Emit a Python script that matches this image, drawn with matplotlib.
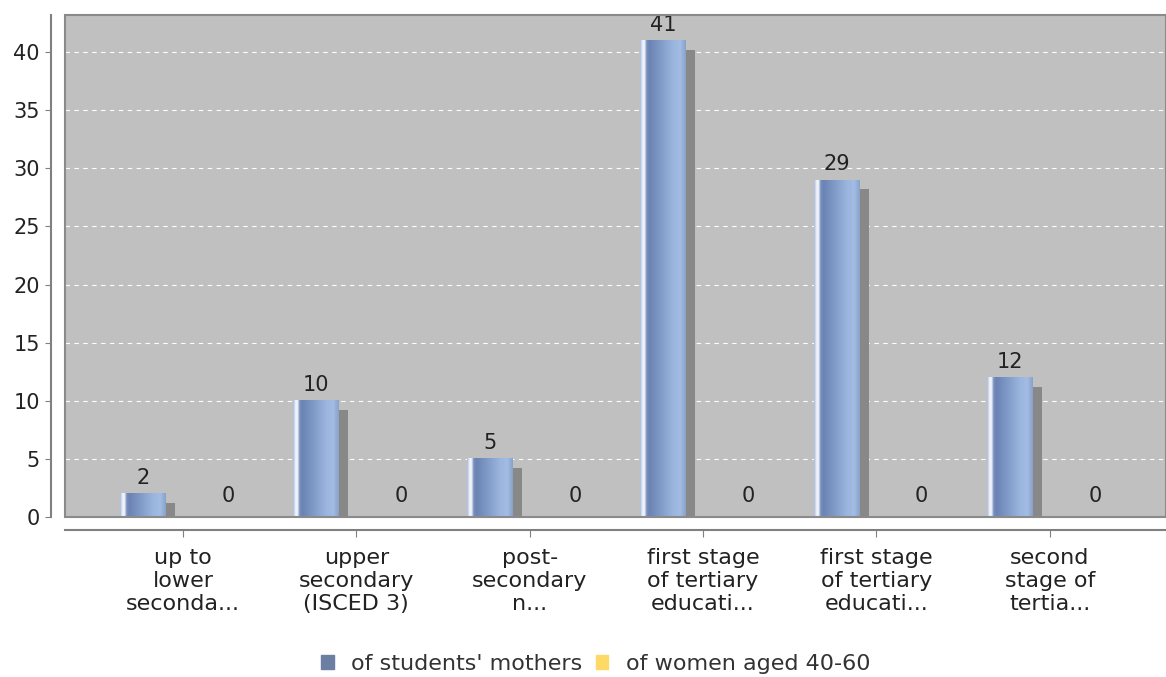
import numpy as np
import matplotlib.pyplot as plt
import matplotlib.transforms as mtransforms
from matplotlib.patches import Rectangle
from matplotlib.colors import to_rgb

categories = ["up to\nlower\nseconda...", "upper\nsecondary\n(ISCED 3)", "post-\nsecondary\nn...",
              "first stage\nof tertiary\neducati...", "first stage\nof tertiary\neducati...",
              "second\nstage of\ntertia..."]
mothers = [2, 10, 5, 41, 29, 12]
women = [0, 0, 0, 0, 0, 0]
series_names = ["of students' mothers", "of women aged 40-60"]
series_colors = ["#6b7fa3", "#ffd966"]

plt.rcParams['font.family'] = ['DejaVu Sans']
FS = 15

fig = plt.figure(figsize=(11.66, 6.77), dpi=100)
ax = fig.add_axes([65 / 1166, 1 - 517 / 677, 1 - 65 / 1166, (517 - 15) / 677])
ax.set_facecolor("#c0c0c0")

x = np.arange(len(categories))
width = 0.265
off1 = 0.23
off2 = 0.26

# horizontal gradient for the bars
stops = [0.0, 0.05, 0.09, 0.14, 0.20, 0.72, 0.88, 1.0]
cols = ["#aebfdd", "#eef2fa", "#f4f7fc", "#7890be", "#6a83b4", "#9ab5de", "#a2bce3", "#8aa3cc"]
t = np.linspace(0, 1, 60)
rgb = np.array([to_rgb(c) for c in cols])
grad = np.stack([np.interp(t, stops, rgb[:, k]) for k in range(3)], axis=-1)[None, :, :]

shadow_tr = mtransforms.offset_copy(ax.transData, fig=fig, x=9, y=-9, units='dots')

for xi, v in zip(x - off1, mothers):
    if v > 0:
        ax.bar(xi, v, width, color="#888888", transform=shadow_tr, zorder=2, linewidth=0)
        ax.imshow(grad, extent=[xi - width / 2, xi + width / 2, 0, v], aspect='auto', zorder=3,
                  interpolation='bilinear')
    ax.annotate(str(v), (xi, v), xytext=(0, 6), textcoords='offset pixels',
                ha='center', va='bottom', fontsize=FS, color="#222222", zorder=5)

ax.bar(x + off2, women, width, color=series_colors[1], zorder=3)
for xi, v in zip(x + off2, women):
    ax.annotate(str(v), (xi, v), xytext=(0, 11), textcoords='offset pixels',
                ha='center', va='bottom', fontsize=FS, color="#222222", zorder=5)

ax.set_xlim(-0.68, 5.67)
ax.set_ylim(0, 43.2)
ax.set_yticks(range(0, 45, 5))
ax.set_xticks(x)
ax.tick_params(axis='y', labelsize=FS, colors="#808080", labelcolor="#222222", length=4, pad=4)
ax.tick_params(axis='x', labelsize=16, colors="#808080", labelcolor="#222222", length=5, pad=8)
ax.set_xticklabels(categories, fontsize=16, color="#222222", linespacing=0.98)

ax.grid(axis='y', color='white', linestyle=(0, (4, 4)), linewidth=0.8, zorder=1)
ax.set_axisbelow(True)

for s in ['top', 'right']:
    ax.spines[s].set_visible(False)
ax.spines['left'].set_position(('outward', 10))
ax.spines['bottom'].set_position(('outward', 9))
ax.spines['left'].set_color("#808080")
ax.spines['bottom'].set_color("#808080")
ax.spines['left'].set_linewidth(1.5)
ax.spines['bottom'].set_linewidth(1.5)

ax.add_patch(Rectangle((0, 0), 1, 1, transform=ax.transAxes, fill=False,
                       edgecolor="#8a8a8a", linewidth=1.5, zorder=6, clip_on=False))

handles = [Rectangle((0, 0), 1, 1, color=c) for c in series_colors]
fig.legend(handles, series_names, loc='center', bbox_to_anchor=(596 / 1166, 1 - 664 / 677),
           ncol=2, frameon=False, fontsize=16, handlelength=0.55, handleheight=0.55,
           handletextpad=0.8, columnspacing=0.6, labelcolor="#333333")

fig.savefig("out.png", dpi=100)
